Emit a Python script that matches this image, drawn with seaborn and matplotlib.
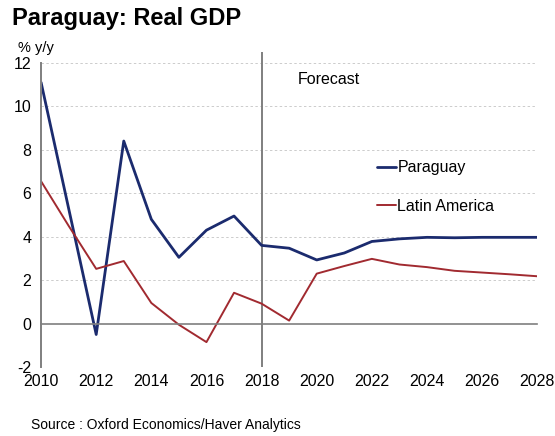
import pandas as pd
import matplotlib
matplotlib.use("Agg")
import matplotlib.pyplot as plt
import seaborn as sns

# datos
years = list(range(2010, 2029))
paraguay = [11.1, 5.3, -0.5, 8.4, 4.8, 3.05, 4.3, 4.95, 3.6, 3.47, 2.93, 3.25,
            3.78, 3.9, 3.97, 3.95, 3.97, 3.97, 3.97]
latam = [6.55, 4.5, 2.52, 2.88, 0.95, -0.05, -0.85, 1.42, 0.92, 0.14, 2.3, 2.65,
         2.98, 2.72, 2.6, 2.43, 2.35, 2.27, 2.18]
xticks = list(range(2010, 2029, 2))
yticks = list(range(-2, 13, 2))

df = pd.DataFrame({"Year": years * 2,
                   "Growth": paraguay + latam,
                   "Series": ["Paraguay"] * len(years) + ["Latin America"] * len(years)})

sns.set_style("white")
plt.rcParams['font.family'] = ['Liberation Sans', 'DejaVu Sans']
plt.rcParams['axes.unicode_minus'] = False
plt.rcParams['text.color'] = 'black'
plt.rcParams['xtick.color'] = 'black'
plt.rcParams['ytick.color'] = 'black'

fig = plt.figure(figsize=(5.55, 4.36), dpi=100)
ax = fig.add_axes([0.074, 0.158, 0.894, 0.698])

colors = {"Paraguay": "#1B2B6E", "Latin America": "#A12A30"}
sns.lineplot(data=df, x="Year", y="Growth", hue="Series", palette=colors,
             ax=ax, legend=False, linewidth=1.6)
ax.lines[0].set_linewidth(2.0)
ax.lines[1].set_linewidth(1.4)

ax.set_xlim(2010, 2028)
ax.set_ylim(-2, 12)
ax.set_xticks(xticks)
ax.set_xticks(years, minor=True)
ax.set_yticks(yticks)
ax.set_xlabel("")
ax.set_ylabel("")

# grilla punteada
for y in yticks:
    if y != 0:
        ax.axhline(y, color="#cccccc", lw=0.7, ls=(0, (2.5, 2.5)), zorder=0)

# eje x sobre el cero
for s in ["top", "right"]:
    ax.spines[s].set_visible(False)
ax.spines["bottom"].set_position(("data", 0))
ax.spines["bottom"].set_color("#7f7f7f")
ax.spines["bottom"].set_linewidth(1.2)
ax.spines["left"].set_color("#7f7f7f")
ax.spines["left"].set_linewidth(1.4)
ax.tick_params(axis="x", which="both", direction="out", length=5, width=1,
               color="#7f7f7f", pad=31, labelsize=11.5)
ax.tick_params(axis="y", direction="out", length=5, width=1, color="#7f7f7f",
               labelsize=11.5, pad=2)

# linea de pronostico
ax.vlines(2018, -2, 12.5, color="#7f7f7f", lw=1.4, clip_on=False, zorder=1)
ax.text(2019.3, 11.25, "Forecast", fontsize=11.5, va="center", ha="left")

# leyenda
leg = ax.legend(handles=ax.lines[:2], labels=["Paraguay", "Latin America"],
                loc="upper left", bbox_to_anchor=(0.665, 0.70), frameon=False,
                handlelength=1.15, handletextpad=0.1, labelspacing=1.45,
                fontsize=11.5, borderaxespad=0)

fig.text(0.022, 0.958, "Paraguay: Real GDP", fontsize=17, fontweight="bold",
         va="center", ha="left")
fig.text(0.032, 0.89, "% y/y", fontsize=10.5, va="center", ha="left")
fig.text(0.056, 0.025, "Source : Oxford Economics/Haver Analytics", fontsize=10,
         va="center", ha="left")

fig.savefig("out.png", dpi=100)
